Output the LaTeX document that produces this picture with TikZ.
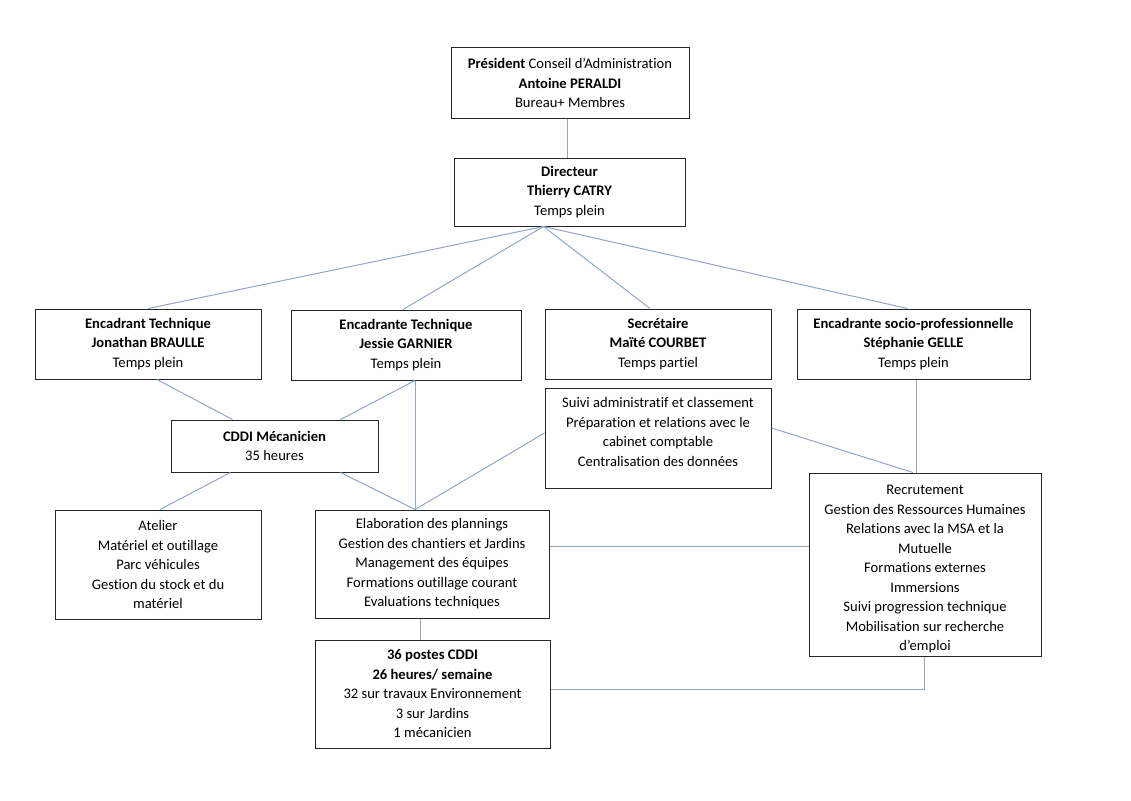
\documentclass[tikz,border=0pt]{standalone}
\usepackage{fontspec}
\setmainfont{Carlito}[RawFeature={-liga;-calt;-clig}]
\usetikzlibrary{calc}
\begin{document}
\begin{tikzpicture}[x=1pt,y=-1pt,
  box/.style={draw=black!85,line width=1pt,rectangle,inner sep=0pt,align=center,
    font=\fontsize{14.6}{19.5}\selectfont},
  link/.style={draw={rgb,255:red,142;green,166;blue,204},line width=1pt}]
\useasboundingbox (0,0) rectangle (1131,800);
\node[box,minimum width=238,minimum height=70] (pres) at (570,83)
  {\textbf{Président} Conseil d’Administration\\\textbf{Antoine PERALDI}\\Bureau+ Membres};
\node[box,minimum width=231,minimum height=68] (dir) at (569.5,192)
  {\textbf{Directeur}\\\textbf{Thierry CATRY}\\Temps plein};
\node[box,minimum width=226,minimum height=70] (jon) at (148,344)
  {\textbf{Encadrant Technique}\\\textbf{Jonathan BRAULLE}\\Temps plein};
\node[box,minimum width=230,minimum height=70] (jes) at (406,345)
  {\textbf{Encadrante Technique}\\\textbf{Jessie GARNIER}\\Temps plein};
\node[box,minimum width=226,minimum height=70] (sec) at (658,344)
  {\textbf{Secrétaire}\\\textbf{Maïté COURBET}\\Temps partiel};
\node[box,minimum width=233,minimum height=70] (ste) at (913.5,344)
  {\textbf{Encadrante socio-professionnelle}\\\textbf{Stéphanie GELLE}\\Temps plein};
\node[box,minimum width=207,minimum height=52] (mec) at (274.5,446)
  {\textbf{CDDI Mécanicien}\\35 heures};
\node[box,minimum width=226,minimum height=100] (sui) at (658,438)
  {Suivi administratif et classement\\Préparation et relations avec le\\cabinet comptable\\Centralisation des données\\[-7.5pt]\mbox{}};
\node[box,minimum width=206,minimum height=109] (ate) at (158,564.5)
  {Atelier\\Matériel et outillage\\Parc véhicules\\Gestion du stock et du\\matériel};
\node[box,minimum width=234,minimum height=108] (ela) at (432,564)
  {Elaboration des plannings\\Gestion des chantiers et Jardins\\Management des équipes\\Formations outillage courant\\Evaluations techniques};
\node[box,minimum width=232,minimum height=183] (rec) at (925,564.5)
  {\rule{0pt}{19pt}Recrutement\\Gestion des Ressources Humaines\\Relations avec la MSA et la\\Mutuelle\\Formations externes\\Immersions\\Suivi progression technique\\Mobilisation sur recherche\\d’emploi};
\node[box,minimum width=235,minimum height=108] (pos) at (432.5,694)
  {\textbf{36 postes CDDI}\\\textbf{26 heures/ semaine}\\32 sur travaux Environnement\\3 sur Jardins\\1 mécanicien};
% connector points
\coordinate (presb) at ($(pres.south)+(-3,0)$);
\coordinate (dirb) at ($(dir.south)+(-26,0)$);
\coordinate (jonb) at ($(jon.south)+(9,0)$);
\coordinate (jesb) at ($(jes.south)+(9,0)$);
\coordinate (elat) at (jesb |- ela.north);
\coordinate (steb) at ($(ste.south)+(3,0)$);
\coordinate (suiL) at ($(sui.west)+(0,-5)$);
\coordinate (suiR) at ($(sui.east)+(0,-10)$);
\coordinate (elaR) at ($(ela.east)+(0,-18)$);
\coordinate (elab) at ($(ela.south)+(-12,0)$);
\coordinate (posR) at ($(pos.east)+(0,-5)$);
\coordinate (recb) at ($(rec.south)+(-1,0)$);
\draw[link] (presb) -- (presb |- dir.north);
\draw[link] (dirb) -- (jon.north);
\draw[link] (dirb) -- ($(jes.north)+(-3,0)$);
\draw[link] (dirb) -- ($(sec.north)+(-8,0)$);
\draw[link] (dirb) -- ($(ste.north)+(-6,0)$);
\draw[link] (jonb) -- ($(mec.north)+(-42,0)$);
\draw[link] (jesb) -- ($(mec.north)+(66,0)$);
\draw[link] (jesb) -- (elat);
\draw[link] (suiL) -- (elat);
\draw[link] (suiR) -- ($(rec.north)+(-12,0)$);
\draw[link] (steb) -- (steb |- rec.north);
\draw[link] ($(mec.south)+(-44,0)$) -- ($(ate.north)+(2,0)$);
\draw[link] ($(mec.south)+(66,0)$) -- (elat);
\draw[link] (elaR) -- (elaR -| rec.west);
\draw[link] (elab) -- (elab |- pos.north);
\draw[link] (posR) -- (posR -| recb) -- (recb);
\end{tikzpicture}
\end{document}
